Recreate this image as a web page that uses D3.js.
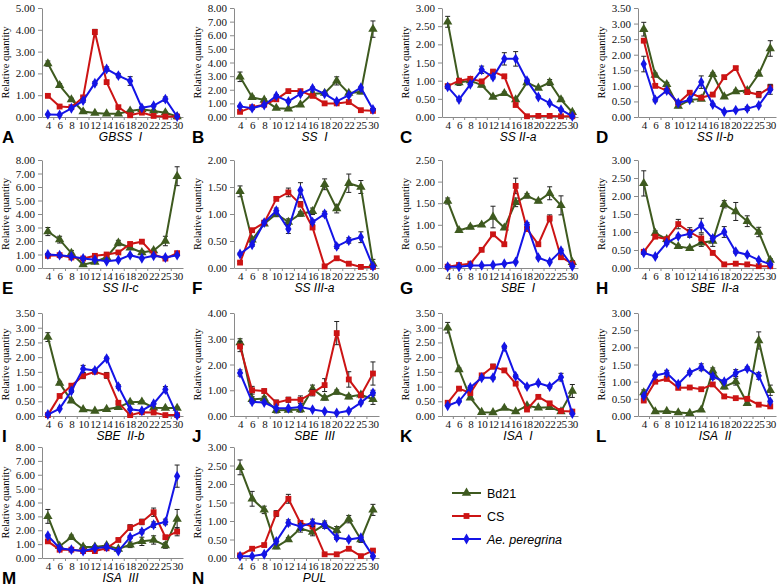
<!DOCTYPE html>
<html><head><meta charset="utf-8">
<script src="https://cdn.jsdelivr.net/npm/d3@7"></script>
<style>
body{margin:0;background:#fff;}
svg{display:block;}
</style></head>
<body>
<svg id="chart" width="778" height="588"></svg>
<script>
const stages = ["4","6","8","10","12","14","16","18","20","22","25","30"];
const letters = ["A","B","C","D","E","F","G","H","I","J","K","L","M","N"];
const genes = ["GBSS\u00a0\u00a0I","SS\u00a0\u00a0I","SS\u00a0II-a","SS\u00a0II-b","SS\u00a0II-c","SS\u00a0III-a","SBE\u00a0\u00a0I","SBE\u00a0\u00a0II-a","SBE\u00a0\u00a0II-b","SBE\u00a0\u00a0III","ISA\u00a0\u00a0I","ISA\u00a0\u00a0II","ISA\u00a0\u00a0III","PUL"];
const yMax  = [5, 8, 3, 3.5, 8, 2, 2.5, 3, 3.5, 4, 3.5, 3, 8, 3];
const yStep = [1, 1, 0.5, 0.5, 1, 0.5, 0.5, 0.5, 0.5, 1, 0.5, 0.5, 1, 0.5];
const seriesNames = ["Bd21","CS","Ae. peregrina"];

// Bd21 (green, triangles)
const bd21 = [
 [2.45,1.45,0.8,0.25,0.18,0.15,0.15,0.28,0.35,0.28,0.2,0.02],
 [2.95,1.45,1.25,0.65,0.6,0.9,1.7,1.75,2.65,1.75,1.85,6.45],
 [2.62,0.95,1.0,0.88,0.55,0.65,0.48,0.95,0.8,0.95,0.48,0.13],
 [2.82,1.35,1.05,0.35,0.55,0.58,1.37,0.65,0.82,0.85,1.38,2.2],
 [2.7,2.1,1.1,0.25,0.45,0.8,1.85,1.5,1.15,1.3,2.0,6.8],
 [1.42,0.52,0.82,1.0,0.85,1.0,1.05,1.55,1.1,1.57,1.5,0.08],
 [1.55,0.87,0.95,1.0,1.18,0.93,1.52,1.67,1.55,1.73,1.45,0.13],
 [2.35,0.97,0.8,0.6,0.55,0.7,0.75,1.77,1.57,1.3,1.0,0.22],
 [2.68,1.12,0.52,0.22,0.17,0.23,0.3,0.47,0.48,0.28,0.27,0.27],
 [2.85,0.65,0.68,0.22,0.23,0.25,1.05,0.7,0.93,0.75,0.82,0.65],
 [3.0,1.58,0.62,0.13,0.12,0.27,0.15,0.35,0.28,0.3,0.15,0.85],
 [0.68,0.13,0.14,0.1,0.08,0.18,1.32,0.85,1.0,0.37,2.2,0.75],
 [3.0,0.85,1.5,0.8,0.8,0.9,0.65,0.95,1.2,1.3,0.9,2.8],
 [2.45,1.6,1.3,0.3,0.5,0.8,0.7,0.9,0.75,1.05,0.5,1.3]
];
const bd21Err = [
 [0.12,0.08,0.06,0.03,0.02,0.02,0.02,0.05,0.04,0.03,0.03,0.02],
 [0.35,0.1,0.1,0.08,0.05,0.1,0.15,0.1,0.3,0.1,0.15,0.6],
 [0.15,0.08,0.05,0.05,0.04,0.04,0.03,0.03,0.04,0.08,0.04,0.03],
 [0.22,0.06,0.06,0.05,0.05,0.05,0.05,0.05,0.05,0.05,0.05,0.25],
 [0.3,0.25,0.2,0.1,0.1,0.1,0.2,0.1,0.15,0.1,0.35,0.7],
 [0.1,0.05,0.03,0.05,0.06,0.04,0.06,0.1,0.08,0.17,0.12,0.08],
 [0.07,0.04,0.04,0.03,0.25,0.04,0.1,0.05,0.04,0.15,0.22,0.04],
 [0.35,0.06,0.05,0.04,0.04,0.1,0.15,0.1,0.25,0.15,0.13,0.04],
 [0.15,0.06,0.04,0.03,0.02,0.03,0.03,0.04,0.04,0.03,0.03,0.03],
 [0.15,0.1,0.08,0.1,0.05,0.1,0.15,0.08,0.08,0.08,0.08,0.2],
 [0.18,0.05,0.04,0.02,0.02,0.03,0.02,0.04,0.03,0.03,0.02,0.22],
 [0.08,0.02,0.02,0.02,0.02,0.03,0.08,0.06,0.1,0.04,0.25,0.15],
 [0.5,0.1,0.15,0.1,0.1,0.1,0.1,0.2,0.3,0.3,0.2,0.7],
 [0.2,0.2,0.1,0.05,0.05,0.1,0.1,0.1,0.1,0.1,0.08,0.15]
];
// CS (red, squares)
const cs = [
 [0.97,0.48,0.45,0.9,3.9,1.6,0.45,0.08,0.2,0.05,0.02,0.02],
 [0.38,0.72,0.9,1.3,1.9,1.9,1.55,1.0,1.0,1.1,0.5,0.45],
 [0.85,1.0,1.05,0.98,1.25,1.12,0.33,0.02,0.03,0.03,0.02,0.02],
 [2.45,1.0,0.85,0.45,0.78,0.62,0.72,1.28,1.57,0.8,0.72,0.95],
 [0.9,0.95,0.78,0.7,0.9,1.0,1.15,1.78,1.95,1.0,0.7,1.1],
 [0.1,0.7,0.84,1.28,1.4,1.18,0.75,0.03,0.18,0.08,0.02,0.02],
 [0.03,0.07,0.1,0.42,0.78,0.55,1.9,0.9,0.55,1.15,0.25,0.1],
 [0.45,0.87,0.8,1.22,1.0,0.82,0.42,0.1,0.12,0.1,0.05,0.05],
 [0.03,0.68,1.03,1.37,1.5,1.38,0.45,0.03,0.13,0.12,0.03,0.03],
 [2.7,1.0,0.97,0.52,0.63,0.63,0.9,1.2,3.22,1.42,0.8,1.65],
 [0.45,0.93,0.78,1.38,1.68,1.55,1.1,0.22,0.65,0.43,0.17,0.15],
 [0.45,1.0,1.08,0.82,0.83,0.78,0.92,0.57,0.52,0.5,0.33,0.28],
 [1.2,0.6,0.6,0.5,0.5,0.7,1.3,2.2,2.6,3.3,1.5,1.9],
 [0.07,0.25,0.35,1.2,1.6,0.95,0.85,0.1,0.1,0.25,0.05,0.2]
];
const csErr = [
 [0.06,0.04,0.04,0.05,0.12,0.08,0.05,0.02,0.02,0.02,0.01,0.01],
 [0.05,0.05,0.05,0.08,0.1,0.1,0.1,0.05,0.05,0.08,0.05,0.05],
 [0.04,0.04,0.05,0.04,0.04,0.05,0.03,0.01,0.01,0.01,0.01,0.01],
 [0.05,0.05,0.05,0.05,0.04,0.05,0.05,0.05,0.05,0.05,0.1,0.1],
 [0.05,0.05,0.05,0.05,0.05,0.05,0.05,0.1,0.1,0.05,0.05,0.1],
 [0.02,0.03,0.03,0.03,0.08,0.05,0.03,0.01,0.02,0.01,0.01,0.01],
 [0.01,0.02,0.02,0.03,0.04,0.03,0.18,0.05,0.04,0.08,0.03,0.02],
 [0.03,0.04,0.05,0.13,0.12,0.12,0.05,0.02,0.02,0.02,0.01,0.01],
 [0.01,0.04,0.05,0.1,0.05,0.1,0.04,0.01,0.02,0.02,0.01,0.01],
 [0.2,0.15,0.08,0.1,0.1,0.15,0.12,0.25,0.45,0.3,0.08,0.45],
 [0.03,0.04,0.04,0.05,0.08,0.06,0.04,0.02,0.04,0.03,0.02,0.02],
 [0.03,0.04,0.04,0.04,0.03,0.03,0.05,0.03,0.03,0.03,0.02,0.02],
 [0.1,0.1,0.05,0.05,0.05,0.1,0.1,0.2,0.2,0.3,0.1,0.3],
 [0.02,0.02,0.03,0.08,0.12,0.05,0.05,0.02,0.02,0.03,0.01,0.03]
];
// Ae. peregrina (blue, diamonds)
const aep = [
 [0.12,0.1,0.4,0.75,1.55,2.2,1.9,1.65,0.42,0.52,0.82,0.02],
 [0.78,0.65,0.88,1.55,1.15,1.7,2.1,1.7,1.15,1.6,2.15,0.55],
 [0.83,0.48,0.9,1.3,1.1,1.6,1.6,1.0,0.55,0.38,0.2,0.02],
 [1.7,0.55,0.85,0.45,0.55,1.12,0.4,0.17,0.22,0.27,0.37,0.88],
 [1.0,0.95,0.85,0.7,0.62,0.5,0.6,0.95,0.72,0.9,0.78,0.95],
 [0.26,0.43,0.84,1.06,0.72,1.44,0.85,1.0,0.4,0.51,0.57,0.03],
 [0.03,0.03,0.06,0.06,0.07,0.1,0.14,1.0,0.24,0.14,0.4,0.04],
 [0.42,0.32,0.7,0.88,0.95,1.18,0.82,1.0,0.45,0.37,0.22,0.1],
 [0.05,0.25,0.85,1.6,1.55,1.95,1.0,0.23,0.18,0.42,0.9,0.02],
 [1.67,0.55,0.52,0.3,0.3,0.35,0.25,0.18,0.12,0.2,0.52,0.9],
 [0.35,0.5,0.97,1.3,1.3,2.35,1.35,1.0,1.12,1.0,1.32,0.08],
 [0.58,1.18,1.25,0.93,1.27,1.42,1.15,1.0,1.25,1.38,1.17,0.42],
 [1.6,0.7,0.6,0.5,0.7,0.8,0.5,1.5,1.9,2.4,2.6,5.9],
 [0.05,0.05,0.1,0.45,0.95,0.85,0.95,0.9,0.55,0.5,0.55,0.05]
];
const aepErr = [
 [0.02,0.02,0.04,0.08,0.08,0.1,0.1,0.2,0.05,0.05,0.1,0.01],
 [0.05,0.05,0.08,0.1,0.08,0.1,0.1,0.1,0.08,0.1,0.1,0.05],
 [0.05,0.04,0.04,0.1,0.05,0.17,0.2,0.04,0.03,0.03,0.02,0.01],
 [0.25,0.06,0.04,0.04,0.04,0.2,0.03,0.02,0.03,0.06,0.03,0.15],
 [0.05,0.05,0.05,0.05,0.05,0.05,0.05,0.05,0.05,0.05,0.05,0.05],
 [0.02,0.03,0.03,0.05,0.08,0.14,0.04,0.05,0.04,0.05,0.1,0.02],
 [0.01,0.01,0.01,0.01,0.01,0.01,0.02,0.05,0.03,0.02,0.04,0.01],
 [0.04,0.03,0.04,0.04,0.1,0.2,0.08,0.15,0.04,0.03,0.02,0.02],
 [0.01,0.02,0.05,0.12,0.05,0.05,0.06,0.03,0.02,0.03,0.1,0.01],
 [0.12,0.05,0.04,0.03,0.03,0.03,0.03,0.02,0.02,0.02,0.05,0.1],
 [0.02,0.03,0.05,0.05,0.05,0.05,0.05,0.04,0.04,0.05,0.13,0.01],
 [0.03,0.04,0.08,0.04,0.05,0.1,0.08,0.05,0.1,0.05,0.1,0.04],
 [0.1,0.05,0.05,0.05,0.05,0.1,0.05,0.1,0.15,0.2,0.2,0.8],
 [0.02,0.02,0.02,0.05,0.08,0.08,0.1,0.05,0.05,0.04,0.05,0.02]
];

const colors = ["#3e5a1f","#cc1414","#1414e6"];
const symbols = [d3.symbolTriangle, d3.symbolSquare, d3.symbolDiamond];
const symSizes = [38, 34, 34];

const colLeft  = [42, 234, 442, 638];
const colRight = [183, 379, 578, 776];
const rowTop   = [8, 160, 313, 447];
const rowBot   = [117, 268, 416, 558];
const letterX  = [2, 192, 400, 596];

const svg = d3.select("#chart");
const serif = "'Liberation Serif','Times New Roman',serif";
const sans = "'Liberation Sans',Arial,sans-serif";

for (let p = 0; p < 14; p++) {
  const col = p % 4, row = Math.floor(p / 4);
  const x0 = colLeft[col], x1 = colRight[col], y0 = rowBot[row], y1 = rowTop[row];
  const g = svg.append("g");
  const band = d3.scaleBand().domain(stages).range([x0, x1]).padding(0);
  const xp = d3.scalePoint().domain(stages).range([x0, x1]).padding(0.5);
  const y = d3.scaleLinear().domain([0, yMax[p]]).range([y0, y1]);
  const ticks = d3.range(0, yMax[p] + 1e-9, yStep[p]);

  const ya = g.append("g").attr("transform", `translate(${x0},0)`)
    .call(d3.axisLeft(y).tickValues(ticks).tickFormat(d3.format(".2f")).tickSize(4).tickPadding(3).tickSizeOuter(0));
  ya.attr("font-family", null).attr("font-size", null);
  ya.selectAll("path,line").attr("stroke", "#8a8a8a");
  ya.selectAll("text").style("font-family", serif).style("font-size", "11px").attr("fill", "#111");

  const xa = g.append("g").attr("transform", `translate(0,${y0})`)
    .call(d3.axisBottom(xp).tickSize(0).tickPadding(4).tickSizeOuter(0));
  xa.attr("font-family", null).attr("font-size", null);
  xa.select("path").attr("stroke", "#8a8a8a");
  xa.selectAll("text").style("font-family", serif).style("font-size", "11px")
    .style("letter-spacing", "-0.4px").attr("fill", "#111");
  g.append("g").selectAll("line").data(stages.slice(1)).join("line")
    .attr("x1", d => band(d)).attr("x2", d => band(d))
    .attr("y1", y0).attr("y2", y0 + 3).attr("stroke", "#8a8a8a");

  g.append("text")
    .attr("transform", `translate(${x0 - 33},${(y0 + y1) / 2}) rotate(-90)`)
    .attr("text-anchor", "middle").style("font-family", serif).style("font-size", "10.5px")
    .text("Relative quantity");

  g.append("text").attr("x", (x0 + x1) / 2 + 8).attr("y", Math.min(y0 + 24, 583))
    .attr("text-anchor", "middle").style("font-family", sans).style("font-style", "italic")
    .style("font-size", "12px").text(genes[p]);

  g.append("text").attr("x", letterX[col]).attr("y", Math.min(y0 + 26, 584))
    .style("font-family", sans).style("font-weight", "bold").style("font-size", "17px")
    .text(letters[p]);

  const sets = [[bd21[p], bd21Err[p]], [cs[p], csErr[p]], [aep[p], aepErr[p]]];
  sets.forEach(([vals, errs], s) => {
    const data = stages.map((st, i) => ({st, v: vals[i], e: errs[i]}));
    const eg = g.append("g").attr("stroke", "#222").attr("stroke-width", 1);
    data.forEach(d => {
      const cx = xp(d.st), ya1 = y(d.v + d.e), ya2 = y(Math.max(0, d.v - d.e));
      eg.append("line").attr("x1", cx).attr("x2", cx).attr("y1", ya1).attr("y2", ya2);
      eg.append("line").attr("x1", cx - 2.5).attr("x2", cx + 2.5).attr("y1", ya1).attr("y2", ya1);
      eg.append("line").attr("x1", cx - 2.5).attr("x2", cx + 2.5).attr("y1", ya2).attr("y2", ya2);
    });
    g.append("path").datum(data)
      .attr("d", d3.line().x(d => xp(d.st)).y(d => y(d.v)))
      .attr("fill", "none").attr("stroke", colors[s]).attr("stroke-width", 2);
    g.append("g").selectAll("path").data(data).join("path")
      .attr("transform", d => `translate(${xp(d.st)},${y(d.v)})`)
      .attr("d", d3.symbol().type(symbols[s]).size(symSizes[s]))
      .attr("fill", colors[s]);
  });
}

// Legend
const lg = svg.append("g");
const legendY = [493, 516, 539];
seriesNames.forEach((n, s) => {
  const ly = legendY[s];
  lg.append("line").attr("x1", 452).attr("x2", 481).attr("y1", ly).attr("y2", ly)
    .attr("stroke", colors[s]).attr("stroke-width", 2);
  lg.append("path").attr("transform", `translate(466.5,${ly})`)
    .attr("d", d3.symbol().type(symbols[s]).size(symSizes[s])).attr("fill", colors[s]);
  lg.append("text").attr("x", 487).attr("y", ly + 4.5).style("font-family", sans)
    .style("font-size", "12.5px").style("font-style", s === 2 ? "italic" : "normal").text(n);
});
</script>
</body></html>
